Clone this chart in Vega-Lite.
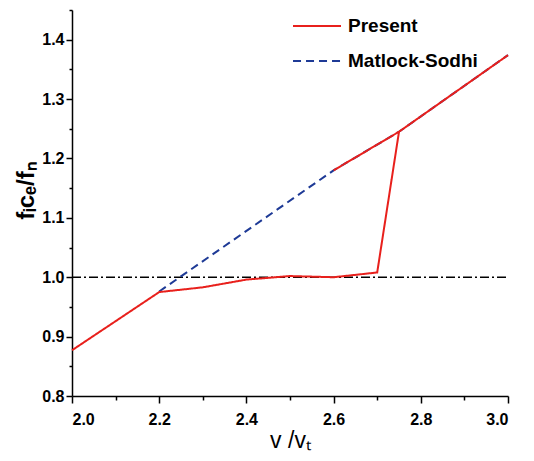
{
  "$schema": "https://vega.github.io/schema/vega-lite/v6.json",
  "width": 436,
  "height": 386,
  "autosize": {"type": "none"},
  "padding": {"left": 72, "top": 10, "right": 26, "bottom": 65},
  "background": "white",
  "config": {
    "view": {"stroke": null},
    "axis": {
      "grid": false,
      "domainColor": "black",
      "domainWidth": 1.5,
      "tickColor": "black",
      "tickWidth": 1.5,
      "labelFont": "Liberation Sans",
      "labelFontWeight": "bold",
      "labelFontSize": 16,
      "labelColor": "black",
      "titleFont": "Liberation Sans",
      "titleColor": "black"
    },
    "legend": {
      "orient": "none", "legendX": 220, "legendY": -9,
      "labelFont": "Liberation Sans", "labelFontWeight": "bold", "labelFontSize": 19, "labelColor": "black",
      "symbolType": "stroke", "symbolSize": 2300, "symbolStrokeWidth": 2, "rowPadding": 0, "labelOffset": 6
    }
  },
  "datasets": {
    "curves": [
      {"v": 2.2, "f": 0.976, "series": "Matlock-Sodhi", "branch": "m"},
      {"v": 2.6, "f": 1.18, "series": "Matlock-Sodhi", "branch": "m"},
      {"v": 2.75, "f": 1.245, "series": "Matlock-Sodhi", "branch": "m"},
      {"v": 3.0, "f": 1.374, "series": "Matlock-Sodhi", "branch": "m"},
      {"v": 2.0, "f": 0.877, "series": "Present", "branch": "low"},
      {"v": 2.2, "f": 0.975, "series": "Present", "branch": "low"},
      {"v": 2.3, "f": 0.983, "series": "Present", "branch": "low"},
      {"v": 2.4, "f": 0.996, "series": "Present", "branch": "low"},
      {"v": 2.5, "f": 1.002, "series": "Present", "branch": "low"},
      {"v": 2.6, "f": 1.0, "series": "Present", "branch": "low"},
      {"v": 2.7, "f": 1.008, "series": "Present", "branch": "low"},
      {"v": 2.75, "f": 1.245, "series": "Present", "branch": "low"},
      {"v": 3.0, "f": 1.374, "series": "Present", "branch": "low"},
      {"v": 2.6, "f": 1.18, "series": "Present", "branch": "up"},
      {"v": 2.75, "f": 1.245, "series": "Present", "branch": "up"}
    ],
    "reference": [
      {"v": 2.0, "f": 1.0},
      {"v": 3.0, "f": 1.0}
    ]
  },
  "resolve": {"axis": {"x": "independent", "y": "independent"}},
  "layer": [
    {
      "data": {"name": "reference"},
      "mark": {"type": "line", "color": "black", "strokeWidth": 1.6, "strokeDash": [9, 3, 2, 3]},
      "encoding": {
        "x": {
          "field": "v", "type": "quantitative",
          "scale": {"domain": [2.0, 3.0], "nice": false, "zero": false},
          "axis": {"orient": "bottom", "values": [2.0, 2.2, 2.4, 2.6, 2.8, 3.0], "format": ".1f", "tickSize": 7, "labelPadding": 8, "title": "v /vₜ", "titleFontSize": 23, "titleFontWeight": "normal", "titlePadding": 2}
        },
        "y": {
          "field": "f", "type": "quantitative",
          "scale": {"domain": [0.8, 1.45], "nice": false, "zero": false},
          "axis": {"orient": "left", "values": [0.8, 0.9, 1.0, 1.1, 1.2, 1.3, 1.4], "format": ".1f", "tickSize": 6, "labelPadding": 2, "title": "fᵢcₑ/fₙ", "titleFontSize": 24, "titleFontWeight": "bold", "titlePadding": 3, "titleY": 180}
        }
      }
    },
    {
      "data": {"name": "curves"},
      "transform": [{"filter": "datum.series === 'Matlock-Sodhi'"}],
      "mark": {"type": "line", "strokeWidth": 2},
      "encoding": {
        "x": {"field": "v", "type": "quantitative", "axis": null},
        "y": {"field": "f", "type": "quantitative", "axis": null},
        "color": {
          "field": "series", "type": "nominal",
          "scale": {"domain": ["Present", "Matlock-Sodhi"], "range": ["#e8201c", "#1e3a96"]},
          "legend": {"title": null}
        },
        "strokeDash": {
          "field": "series", "type": "nominal",
          "scale": {"domain": ["Present", "Matlock-Sodhi"], "range": [[1, 0], [8, 5]]},
          "legend": {"title": null}
        }
      }
    },
    {
      "data": {"name": "curves"},
      "transform": [{"filter": "datum.series === 'Present'"}],
      "mark": {"type": "line", "strokeWidth": 2},
      "encoding": {
        "x": {"field": "v", "type": "quantitative", "axis": null},
        "y": {"field": "f", "type": "quantitative", "axis": null},
        "color": {"field": "series", "type": "nominal", "legend": {"title": null}},
        "strokeDash": {"field": "series", "type": "nominal", "legend": {"title": null}},
        "detail": {"field": "branch"}
      }
    },
    {
      "data": {"name": "curves"},
      "mark": {"type": "point", "opacity": 0},
      "encoding": {
        "x": {"field": "v", "type": "quantitative",
          "axis": {"orient": "bottom", "values": [2.1, 2.3, 2.5, 2.7, 2.9], "labels": false, "domain": false, "tickSize": 4, "title": null}},
        "y": {"field": "f", "type": "quantitative",
          "axis": {"orient": "left", "values": [0.85, 0.95, 1.05, 1.15, 1.25, 1.35, 1.45], "labels": false, "domain": false, "tickSize": 3, "title": null}}
      }
    }
  ]
}
